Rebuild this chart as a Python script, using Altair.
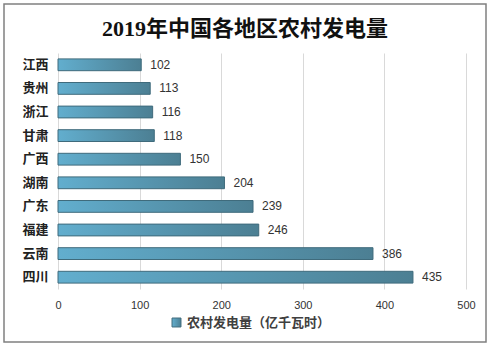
import altair as alt
import pandas as pd

regions = ["江西", "贵州", "浙江", "甘肃", "广西", "湖南", "广东", "福建", "云南", "四川"]
values = [102, 113, 116, 118, 150, 204, 239, 246, 386, 435]
series_name = "农村发电量（亿千瓦时）"
title_text = "2019年中国各地区农村发电量"
x_ticks = [0, 100, 200, 300, 400, 500]

df = pd.DataFrame({"地区": regions, "值": values, "系列": [series_name] * len(regions)})

CJK = "Noto Sans CJK SC"
W, H = 408, 236
L, T = 58, 53

grad = alt.Gradient(
    gradient="linear", x1=0, x2=1, y1=0, y2=0,
    stops=[alt.GradientStop(color="#62aece", offset=0),
           alt.GradientStop(color="#4c7f93", offset=1)],
)

base = alt.Chart(df)

bars = base.mark_bar(fill=grad, strokeWidth=1).encode(
    y=alt.Y("地区:N", sort=regions,
            scale=alt.Scale(paddingInner=0.5, paddingOuter=0.25),
            axis=alt.Axis(title=None, ticks=False, domain=False, labelPadding=10,
                          labelFontSize=13, labelFontWeight="bold", labelColor="#222",
                          labelFont=CJK)),
    x=alt.X("值:Q", scale=alt.Scale(domain=[0, 500], nice=False),
            axis=alt.Axis(title=None, values=x_ticks, ticks=False, domain=False,
                          labelFlush=False, labelPadding=10, labelFontSize=11,
                          labelColor="#333", labelFont="Liberation Sans",
                          gridColor="#d9d9d9")),
    stroke=alt.Stroke("系列:N", scale=alt.Scale(range=["#3f6b7c"]),
                      legend=alt.Legend(title=None, orient="none", legendX=112, legendY=263,
                                        symbolType="square", symbolSize=80,
                                        symbolFillColor="#4f8ba3", symbolStrokeWidth=1,
                                        labelFontSize=13, labelFontWeight="bold",
                                        labelColor="#404040", labelFont=CJK)),
)

labels = base.mark_text(align="left", baseline="middle", dx=9, fontSize=12,
                        color="#333", font="Liberation Sans").encode(
    y=alt.Y("地区:N", sort=regions),
    x=alt.X("值:Q"),
    text=alt.Text("值:Q"),
)

one = alt.Chart(pd.DataFrame({"t": [title_text]}))

frame = one.mark_rect(fill=None, stroke="#808080", strokeWidth=1.5).encode(
    x=alt.value(4 - L), x2=alt.value(486 - L),
    y=alt.value(4 - T), y2=alt.value(342 - T),
)

title = one.mark_text(align="center", baseline="middle", fontSize=22, fontWeight="bold",
                      font="Liberation Serif, " + CJK, color="#111").encode(
    x=alt.value(245 - L), y=alt.value(29 - T), text="t:N",
)

chart = alt.layer(bars, labels, frame, title).properties(
    width=W, height=H,
    autosize="none",
    padding={"left": L, "top": T, "right": 491 - L - W, "bottom": 347 - T - H},
).configure_view(stroke=None)

chart.save("out.html", embed_options={"renderer": "svg", "actions": False})
